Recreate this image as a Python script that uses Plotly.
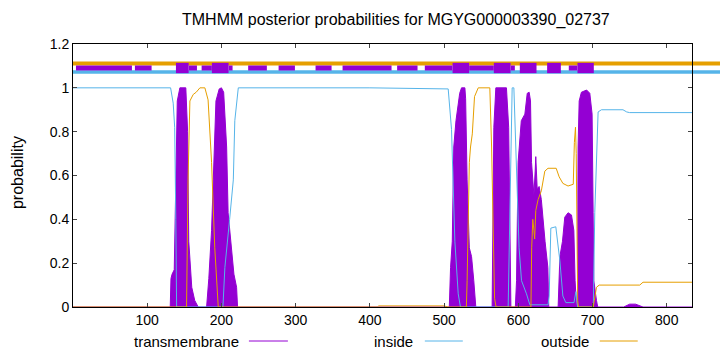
import plotly.graph_objects as go

# ---------------- data ----------------
seq_len = 834

tm_x = [0, 131, 132, 133.5, 136.4, 138.7, 140.5, 144, 152, 154.4, 156, 160, 164, 168.7,
        180, 183, 186.7, 189, 192.6, 197, 200, 203, 207, 209, 213.7, 216.8, 220.4, 221.7,
        507, 508.7, 511, 513, 516, 519, 521, 523.5, 528, 529, 531, 534, 537, 540, 542.7,
        564.7, 567, 569.7, 584, 587, 588.5, 590,
        596, 597.6, 599.7, 604, 608.8, 612, 614.6, 616.4, 617.8, 621, 622.7, 623.5, 625.4,
        628, 631, 633.5, 636, 639.8, 641,
        653.6, 656, 659.5, 662.6, 667, 671.6, 674.8, 676.5, 678.4,
        679.7, 680.5, 682, 685, 692, 696.3, 699.4, 700.8, 701.7, 705.3, 707,
        742, 750, 758, 768, 834]
tm_y = [0, 0, 0.13, 0.15, 0.17, 0.58, 0.94, 1.0, 1.0, 0.80, 0.30, 0.09, 0.03, 0,
        0, 0.13, 0.35, 0.58, 0.94, 0.995, 1.0, 0.98, 0.73, 0.43, 0.24, 0.15, 0.09, 0,
        0, 0.18, 0.30, 0.73, 0.85, 0.93, 0.975, 1.0, 1.0, 0.95, 0.58, 0.27, 0.23, 0.12, 0,
        0, 0.82, 1.0, 1.0, 0.82, 0.43, 0,
        0, 0.12, 0.66, 0.85, 0.88, 0.975, 0.98, 0.94, 0.66, 0.51, 0.62, 0.686, 0.54,
        0.55, 0.49, 0.39, 0.30, 0.18, 0,
        0, 0.23, 0.30, 0.41, 0.43, 0.42, 0.35, 0.12, 0,
        0, 0.73, 0.94, 0.98, 0.99, 0.975, 0.88, 0.43, 0.12, 0.03, 0,
        0, 0.013, 0.013, 0, 0]

in_x = [0, 131.5, 135, 137, 138.5, 139.6, 202, 204.6, 211, 216, 218, 222.7, 400, 505.5,
        510, 514.5, 519, 522, 586.3, 589, 591.7, 594, 595.3, 598.4, 601, 604.3, 611, 615.5,
        640, 641.6, 643.8, 650.5, 653, 656, 660, 664, 675, 677.5, 680,
        701, 703, 707.5, 712, 741, 746, 750, 834]
in_y = [1, 1, 0.93, 0.82, 0.4, 0, 0, 0.18, 0.40, 0.58, 0.85, 1.0, 1.0, 0.995,
        0.81, 0.30, 0.06, 0, 0, 0.6, 1.0, 1.0, 0.88, 0.58, 0.27, 0.12, 0.06, 0.01,
        0.01, 0.05, 0.36, 0.366, 0.30, 0.21, 0.05, 0.02, 0.02, 0.07, 0,
        0, 0.43, 0.89, 0.90, 0.90, 0.89, 0.887, 0.887]

out_x = [0, 153, 155, 157.5, 162, 166, 171, 177.7, 182, 186.7, 191, 195.7, 410, 412,
         500, 505, 530, 531, 534, 535.6, 538, 541, 546, 561.6, 564, 566, 568, 570,
         617, 618, 619.5, 621, 622, 623.5, 626.6, 631, 633.5, 635.7, 640, 651, 655, 660,
         667, 674, 675.5, 677, 678, 679, 680, 681,
         701, 705.3, 709, 763.6, 768, 834]
out_y = [0, 0, 0.58, 0.94, 0.97, 0.98, 1.0, 1.0, 0.945, 0.66, 0.27, 0, 0, 0.005,
         0.005, 0, 0, 0.12, 0.66, 0.73, 0.79, 0.96, 1.0, 1.0, 0.73, 0.27, 0.04, 0,
         0, 0.27, 0.40, 0.35, 0.31, 0.44, 0.49, 0.53, 0.58, 0.62, 0.633, 0.633, 0.594, 0.564,
         0.552, 0.56, 0.75, 0.82, 0.70, 0.30, 0.03, 0,
         0, 0.09, 0.10, 0.10, 0.113, 0.113]

# top topology band: purple segments (start, end) and whether tall
band_start = [4.0, 83.4, 138.7, 155.8, 173.3, 187.1, 209.6, 236.0, 277.0, 326.8, 363.2,
              436.7, 474.0, 511.4, 533.7, 567.0, 589.5, 602.0, 638.8, 668.0, 679.7]
band_end = [79.4, 105.9, 155.8, 167.0, 187.1, 209.6, 215.0, 261.2, 299.0, 348.4, 429.2,
            464.2, 511.4, 533.7, 567.0, 589.5, 595.3, 624.5, 657.3, 679.7, 701.7]
band_tall = [False, False, True, False, False, True, False, False, False, False, False,
             False, False, True, False, True, False, True, True, False, True]

outside_band_y = 1.111
inside_band_y = 1.072

title = "TMHMM posterior probabilities for MGYG000003390_02737"
x_ticks = [100, 200, 300, 400, 500, 600, 700, 800]
y_ticks = [0, 0.2, 0.4, 0.6, 0.8, 1.0, 1.2]
legend_names = ["transmembrane", "inside", "outside"]

PURPLE = "#9400D3"
BLUE = "#56B4E9"
ORANGE = "#E69F00"
FONT = "Liberation Sans, Arial, sans-serif"

fig = go.Figure()

fig.add_trace(go.Scatter(x=tm_x, y=tm_y, mode="lines", fill="tozeroy",
                         line=dict(color=PURPLE, width=1), fillcolor=PURPLE,
                         showlegend=False, hoverinfo="skip"))
fig.add_trace(go.Scatter(x=in_x, y=in_y, mode="lines",
                         line=dict(color=BLUE, width=1), showlegend=False))
fig.add_trace(go.Scatter(x=out_x, y=out_y, mode="lines",
                         line=dict(color=ORANGE, width=1), showlegend=False))

# purple band segments as bars
bx, bw, bb, bh = [], [], [], []
for s, e, t in zip(band_start, band_end, band_tall):
    bx.append((s + e) / 2)
    bw.append(e - s)
    if t:
        bb.append(1.067); bh.append(0.047)
    else:
        bb.append(1.079); bh.append(0.023)
fig.add_trace(go.Bar(x=bx, y=bh, base=bb, width=bw, marker=dict(color=PURPLE, line=dict(width=0)),
                     showlegend=False, hoverinfo="skip"))

# plot-area pixel geometry
L, R, T, B = 73, 692.3, 44, 307
W, H = 720, 352
pw, ph = R - L, B - T

def px2x(px):
    return (px - L) / pw

def py2y(py):
    return (B - py) / ph

shapes = [
    dict(type="line", xref="paper", yref="y", x0=0, x1=px2x(722), y0=outside_band_y, y1=outside_band_y,
         line=dict(color=ORANGE, width=4), layer="below"),
    dict(type="line", xref="paper", yref="y", x0=0, x1=px2x(722), y0=inside_band_y, y1=inside_band_y,
         line=dict(color=BLUE, width=3.5), layer="below"),
]

annotations = []
leg_y = py2y(341)
leg_items = [(legend_names[0], 241, 249, 288, PURPLE),
             (legend_names[1], 415, 425, 463, BLUE),
             (legend_names[2], 591, 600, 638, ORANGE)]
for name, tx, l0, l1, col in leg_items:
    annotations.append(dict(text=name, xref="paper", yref="paper", x=px2x(tx), y=leg_y,
                            xanchor="right", yanchor="middle", showarrow=False,
                            font=dict(family=FONT, size=15, color="#000")))
    shapes.append(dict(type="line", xref="paper", yref="paper", x0=px2x(l0), x1=px2x(l1),
                       y0=leg_y, y1=leg_y, line=dict(color=col, width=1)))

annotations.append(dict(text="probability", xref="paper", yref="paper", x=px2x(17), y=py2y(173),
                        textangle=-90, xanchor="center", yanchor="middle", showarrow=False,
                        font=dict(family=FONT, size=16, color="#000")))
annotations.append(dict(text=title, xref="paper", yref="paper", x=px2x(396), y=py2y(20),
                        xanchor="center", yanchor="middle", showarrow=False,
                        font=dict(family=FONT, size=16, color="#000")))

fig.update_layout(
    width=W, height=H,
    margin=dict(l=L, r=W - R, t=T, b=H - B, pad=0),
    paper_bgcolor="white", plot_bgcolor="rgba(0,0,0,0)",
    barmode="overlay",
    shapes=shapes, annotations=annotations,
    font=dict(family=FONT, size=13, color="#000"),
    xaxis=dict(range=[0, seq_len], tickvals=x_ticks, ticks="inside", ticklen=4,
               showline=True, linecolor="#000", linewidth=1, mirror="ticks",
               showgrid=False, zeroline=False, tickfont=dict(size=14)),
    yaxis=dict(range=[0, 1.2], tickvals=y_ticks, ticktext=["0", "0.2", "0.4", "0.6", "0.8", "1", "1.2"],
               ticks="inside", ticklen=4,
               showline=True, linecolor="#000", linewidth=1, mirror="ticks",
               showgrid=False, zeroline=False, tickfont=dict(size=14)),
)

fig.write_html("out.html")
